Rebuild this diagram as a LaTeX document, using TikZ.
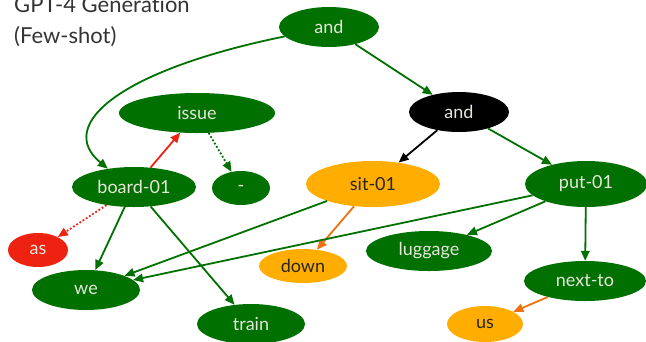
\documentclass[tikz,border=0pt]{standalone}
\usepackage{fontspec}
\setmainfont[Ligatures={NoCommon,NoRare}]{Lato}
\usetikzlibrary{arrows.meta,shapes.geometric}
\definecolor{gr}{HTML}{007000}
\definecolor{og}{HTML}{FFAD00}
\definecolor{rd}{HTML}{EE2211}
\definecolor{lt}{HTML}{E6E6DC}
\definecolor{ttl}{HTML}{333333}
\definecolor{ed}{HTML}{F07010}
\tikzset{
  nd/.style={ellipse,inner sep=0pt,font=\fontsize{18}{20}\selectfont},
  gn/.style={nd,fill=gr,text=lt},
  on/.style={nd,fill=og,text=black!85},
  rn/.style={nd,fill=rd,text=lt},
  bn/.style={nd,fill=black,text=lt},
  ar/.style={-{Triangle[length=10pt,width=8.5pt]},line width=1.8pt},
}
\begin{document}
\begin{tikzpicture}[x=1pt,y=-1pt]
\useasboundingbox (0,0) rectangle (646,341);
\node[anchor=base west,text=ttl,font=\fontsize{22}{24}\selectfont,inner sep=0pt] (t1) at (14,12) {GPT-4 Generation};
\node[anchor=base west,text=ttl,font=\fontsize{22}{24}\selectfont,inner sep=0pt] (t2) at (14,43) {(Few-shot)};
\node[gn,minimum width=100pt,minimum height=40pt] (and1) at (329,27) {and};
\node[bn,minimum width=100pt,minimum height=40pt] (and2) at (459,112) {and};
\node[gn,minimum width=156pt,minimum height=40pt] (issue) at (197,113) {issue};
\node[gn,minimum width=124pt,minimum height=40pt] (board) at (134,187) {board-01};
\node[gn,minimum width=58pt,minimum height=34pt] (dash) at (241,188) {-};
\node[on,minimum width=134pt,minimum height=46pt] (sit) at (373,184) {sit-01};
\node[gn,minimum width=122pt,minimum height=46pt] (put) at (586,184) {put-01};
\node[rn,minimum width=60pt,minimum height=34pt] (as) at (38,250) {as};
\node[gn,minimum width=108pt,minimum height=40pt] (we) at (86,290) {we};
\node[gn,minimum width=108pt,minimum height=40pt] (train) at (251,324) {train};
\node[on,minimum width=88pt,minimum height=34pt] (down) at (303,266) {down};
\node[gn,minimum width=126pt,minimum height=40pt] (lug) at (429,251) {luggage};
\node[gn,minimum width=122pt,minimum height=40pt] (next) at (585,281) {next-to};
\node[on,minimum width=76pt,minimum height=36pt] (us) at (485,324) {us};

\draw[ar,gr] (and1.192) .. controls (120,70) and (55,125) .. (board.145);
\draw[ar,gr] (and1) -- (and2);
\draw[ar,black] (and2) -- (sit);
\draw[ar,gr] (and2) -- (put);
\draw[ar,rd] (board) -- (issue);
\draw[ar,gr,dotted] (issue) -- (dash);
\draw[ar,rd,dotted] (board) -- (as);
\draw[ar,gr] (board) -- (we);
\draw[ar,gr] (board) -- (train);
\draw[ar,gr] (sit) -- (we);
\draw[ar,ed] (sit) -- (down);
\draw[ar,gr] (put) -- (we);
\draw[ar,gr] (put) -- (lug);
\draw[ar,gr] (put) -- (next);
\draw[ar,ed] (next) -- (us);
\end{tikzpicture}
\end{document}
